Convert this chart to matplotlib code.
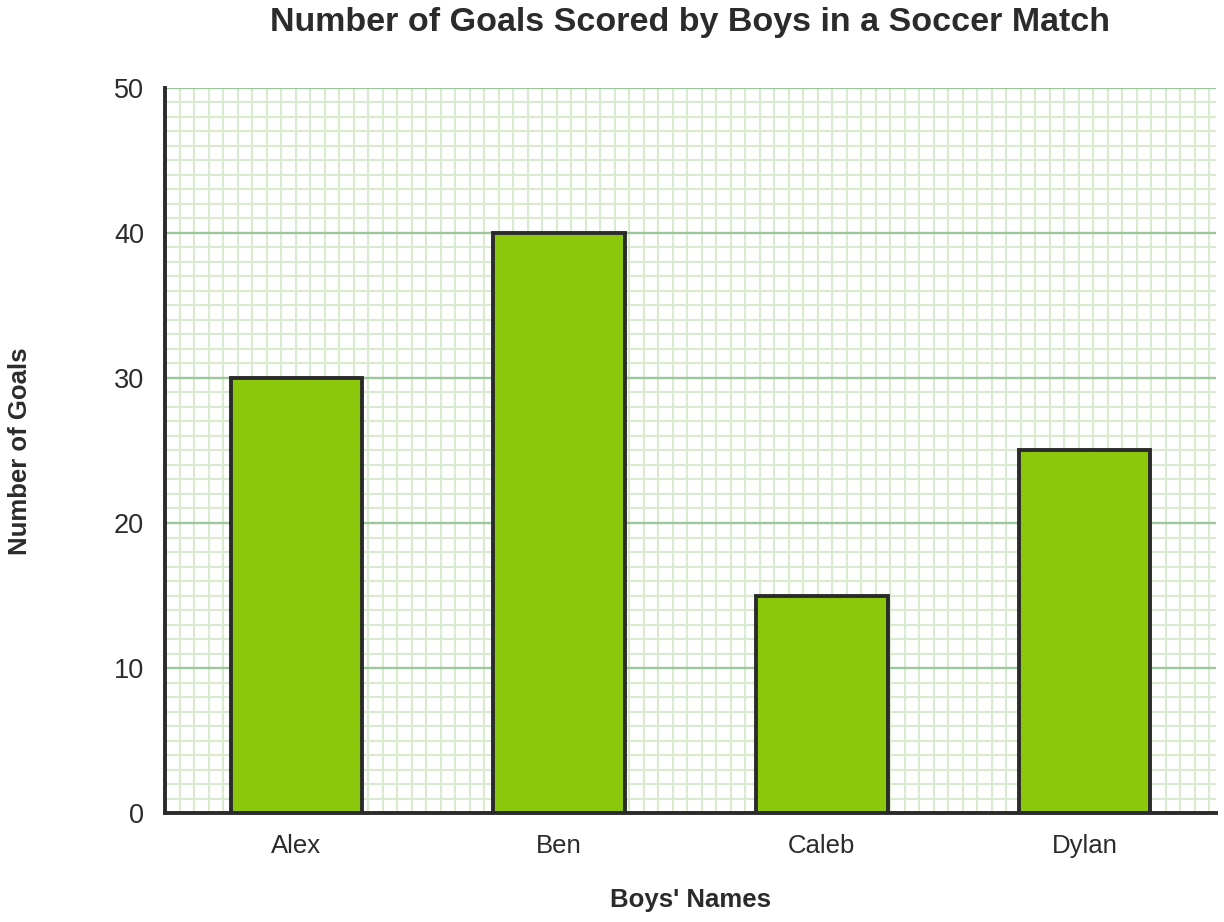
import numpy as np
import matplotlib.pyplot as plt

plt.rcParams['font.family'] = ['Liberation Sans', 'DejaVu Sans']

boys = ['Alex', 'Ben', 'Caleb', 'Dylan']
goals = [30, 40, 15, 25]
y_ticks = [0, 10, 20, 30, 40, 50]

fig = plt.figure(figsize=(12.24, 9.22), dpi=100)
ax = fig.add_axes([165 / 1224, 109 / 922, 1051 / 1224, 725 / 922])

x = np.arange(len(boys))
ax.bar(x, goals, width=0.5, color='#8bc70a', edgecolor='#2b2b2b',
       linewidth=2.8, zorder=3)

ax.set_xlim(-0.5, 3.5)
ax.set_ylim(0, 50)

# square graph-paper grid: one minor cell per goal
ax.set_yticks(y_ticks)
ax.set_yticks(np.arange(0, 51, 1), minor=True)
step = 4 / 1051 * 14.5
ax.set_xticks(x)
ax.set_xticks(np.arange(-0.5, 3.5, step), minor=True)
ax.grid(which='minor', color='#d9ebcf', linewidth=1.5, zorder=0)
ax.grid(which='major', axis='y', color='#9cc79c', linewidth=1.7, zorder=1)
ax.grid(which='major', axis='x', visible=False)
ax.xaxis.grid(which='minor', color='#d9ebcf', linewidth=1.5)

ax.set_xticklabels(boys)
ax.tick_params(which='both', length=0)
ax.tick_params(axis='y', pad=15, labelsize=19.5, labelcolor='#2b2b2b')
ax.tick_params(axis='x', pad=15, labelsize=18.5, labelcolor='#2b2b2b')

for side in ['top', 'right']:
    ax.spines[side].set_visible(False)
for side in ['left', 'bottom']:
    ax.spines[side].set_color('#2b2b2b')
    ax.spines[side].set_linewidth(2.8)
    ax.spines[side].set_zorder(4)

fig.text(690 / 1224, 1 - 22 / 922, 'Number of Goals Scored by Boys in a Soccer Match',
         ha='center', va='center', fontsize=24.5, fontweight='bold', color='#2b2b2b')
fig.text(690 / 1224, 1 - 900 / 922, "Boys' Names", ha='center', va='center',
         fontsize=18.5, fontweight='bold', color='#2b2b2b')
fig.text(20 / 1224, 1 - 451 / 922, 'Number of Goals', ha='center', va='center',
         rotation=90, fontsize=18.5, fontweight='bold', color='#2b2b2b')

plt.savefig('out.png', dpi=100)
